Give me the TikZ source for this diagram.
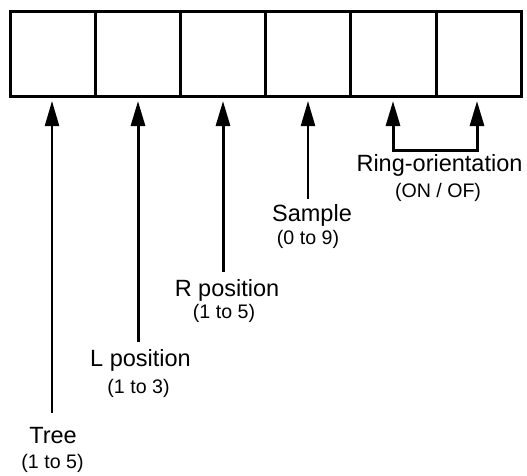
\documentclass[tikz,border=0pt]{standalone}
\usepackage{fontspec}
\setmainfont{Liberation Sans}
\usetikzlibrary{arrows.meta}
\begin{document}
\begin{tikzpicture}[x=1pt,y=-1pt,
  cell/.style={draw=black,line width=3pt,minimum width=85.2pt,minimum height=85pt,inner sep=0pt,outer sep=0pt,anchor=north west},
  arr/.style={line width=3pt,-{Triangle[length=25pt,width=14pt]},shorten >=5pt},
  thinarr/.style={line width=2.2pt,-{Triangle[length=25pt,width=14pt]},shorten >=5pt},
  lbl/.style={inner sep=0pt,font=\fontsize{23.5}{28}\selectfont},
  rng/.style={inner sep=0pt,font=\fontsize{19.6}{24}\selectfont}]
\useasboundingbox (0,0) rectangle (527,475);
\node[cell] (c1) at (10,11) {};
\node[cell] (c2) at (95.2,11) {};
\node[cell] (c3) at (180.4,11) {};
\node[cell] (c4) at (265.6,11) {};
\node[cell] (c5) at (350.8,11) {};
\node[cell] (c6) at (436,11) {};
% labels
\node[lbl] (tree) at (53,436) {Tree};
\node[rng] (treer) at (52.5,463) {(1 to 5)};
\node[lbl] (lpos) at (140.5,360) {L position};
\node[rng] (lposr) at (138.5,388) {(1 to 3)};
\node[lbl] (rpos) at (227,290) {R position};
\node[rng] (rposr) at (224,313) {(1 to 5)};
\node[lbl] (samp) at (312,215) {Sample};
\node[rng] (sampr) at (308,239) {(0 to 9)};
\node[lbl] (ring) at (439.5,165) {Ring-orientation};
\node[rng] (ringr) at (438,192) {(ON / OF)};
% free ends
\coordinate (e1) at (52,413);
\coordinate (e2) at (138,342);
\coordinate (e3) at (223,272);
\coordinate (e4) at (308,199);
\coordinate (e5) at (393,150);
\coordinate (e6) at (477,150);
\draw[thinarr] (e1) -- (e1 |- c1.south);
\draw[arr] (e2) -- (e2 |- c2.south);
\draw[arr] (e3) -- (e3 |- c3.south);
\draw[thinarr] (e4) -- (e4 |- c4.south);
\draw[line width=3pt] ([xshift=-1.5pt]e5) -- ([xshift=1.5pt]e6);
\draw[arr] (e5) -- (e5 |- c5.south);
\draw[arr] (e6) -- (e6 |- c6.south);
\end{tikzpicture}
\end{document}
